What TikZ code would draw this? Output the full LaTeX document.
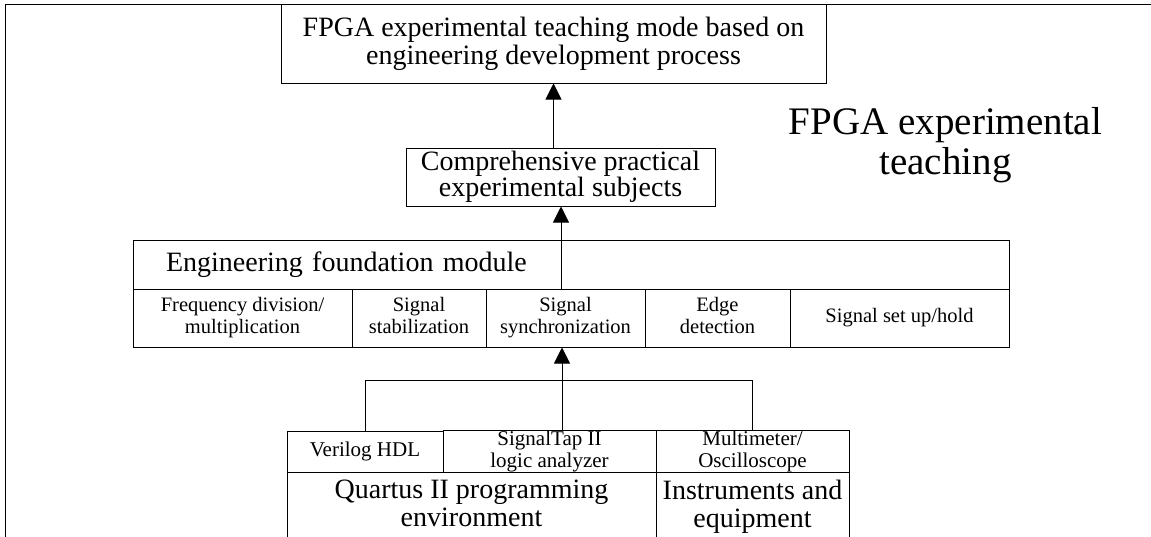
\documentclass[tikz,border=0pt]{standalone}
\usepackage{fontspec}
\setmainfont{Liberation Serif}
\usetikzlibrary{arrows.meta}
\begin{document}
\begin{tikzpicture}[x=1pt,y=-1pt,
  box/.style={draw=black,line width=1pt,inner sep=0pt,align=center,
    execute at begin node=\vphantom{Ag},execute at end node=\vphantom{Ag}},
  arr/.style={line width=0.9pt,-{Triangle[length=16pt,width=16pt]}},
  link/.style={line width=0.9pt},
  fbig/.style={font=\fontsize{28}{28}\selectfont},
  fcomp/.style={font=\fontsize{28}{25}\selectfont},
  fcell/.style={font=\fontsize{20.5}{22}\selectfont},
  ftool/.style={font=\fontsize{21}{22}\selectfont},
  ftitle/.style={font=\fontsize{39}{40}\selectfont}]
\useasboundingbox (0,0) rectangle (1151,536);
\clip (0,0) rectangle (1151,536);
\fill[white] (0,0) rectangle (1151,536);
\draw[line width=1pt] (1160,4.5) -- (5.5,4.5) -- (5.5,545);

\node[box,fbig,minimum width=545pt,minimum height=78.5pt] (top) at (553.5,43.75)
  {FPGA experimental teaching mode based on\\engineering development process};
\node[box,fcomp,minimum width=309pt,minimum height=58pt] (comp) at (560.5,177)
  {Comprehensive practical\\experimental subjects};
\node[ftitle,align=center,inner sep=0pt] (title) at (945.5,145) {FPGA experimental\\teaching};

\node[box,fbig,minimum width=876pt,minimum height=49pt,text width=810pt,align=left,inner xsep=33pt] (fnd) at (571,264.5)
  {Engineering foundation module};
\node[box,fcell,minimum width=219pt,minimum height=58pt] (f1) at (242.5,318) {Frequency division/\\multiplication};
\node[box,fcell,minimum width=134pt,minimum height=58pt] (f2) at (419,318) {Signal\\stabilization};
\node[box,fcell,minimum width=159pt,minimum height=58pt] (f3) at (565.5,318) {Signal\\synchronization};
\node[box,fcell,minimum width=145pt,minimum height=58pt] (f4) at (717.5,318) {Edge\\detection};
\node[box,fcell,minimum width=219pt,minimum height=58pt] (f5) at (899.5,318) {Signal set up/hold};

\node[box,ftool,minimum width=156pt,minimum height=41pt] (verilog) at (365,451.5) {Verilog HDL};
\node[box,ftool,minimum width=213pt,minimum height=41pt] (stap) at (549.5,451.5) {SignalTap II\\logic analyzer};
\node[box,ftool,minimum width=193pt,minimum height=41pt] (multi) at (752.5,451.5) {Multimeter/\\Oscilloscope};
\node[box,fbig,minimum width=369pt,minimum height=69pt] (quartus) at (471.5,506.5) {Quartus II programming\\environment};
\node[box,fbig,minimum width=193pt,minimum height=69pt] (instr) at (752.5,506.5) {Instruments and\\equipment};

\coordinate (bus) at (562,380);
\coordinate (up) at (561,289);
\draw[arr] (top.south |- comp.north) -- (top.south);
\draw[arr] (up) -- (up |- comp.south);
\draw[link] (verilog.north) |- (multi.north |- bus) -- (multi.north);
\draw[arr] (bus |- stap.north) -- (bus |- f3.south);
\end{tikzpicture}
\end{document}
